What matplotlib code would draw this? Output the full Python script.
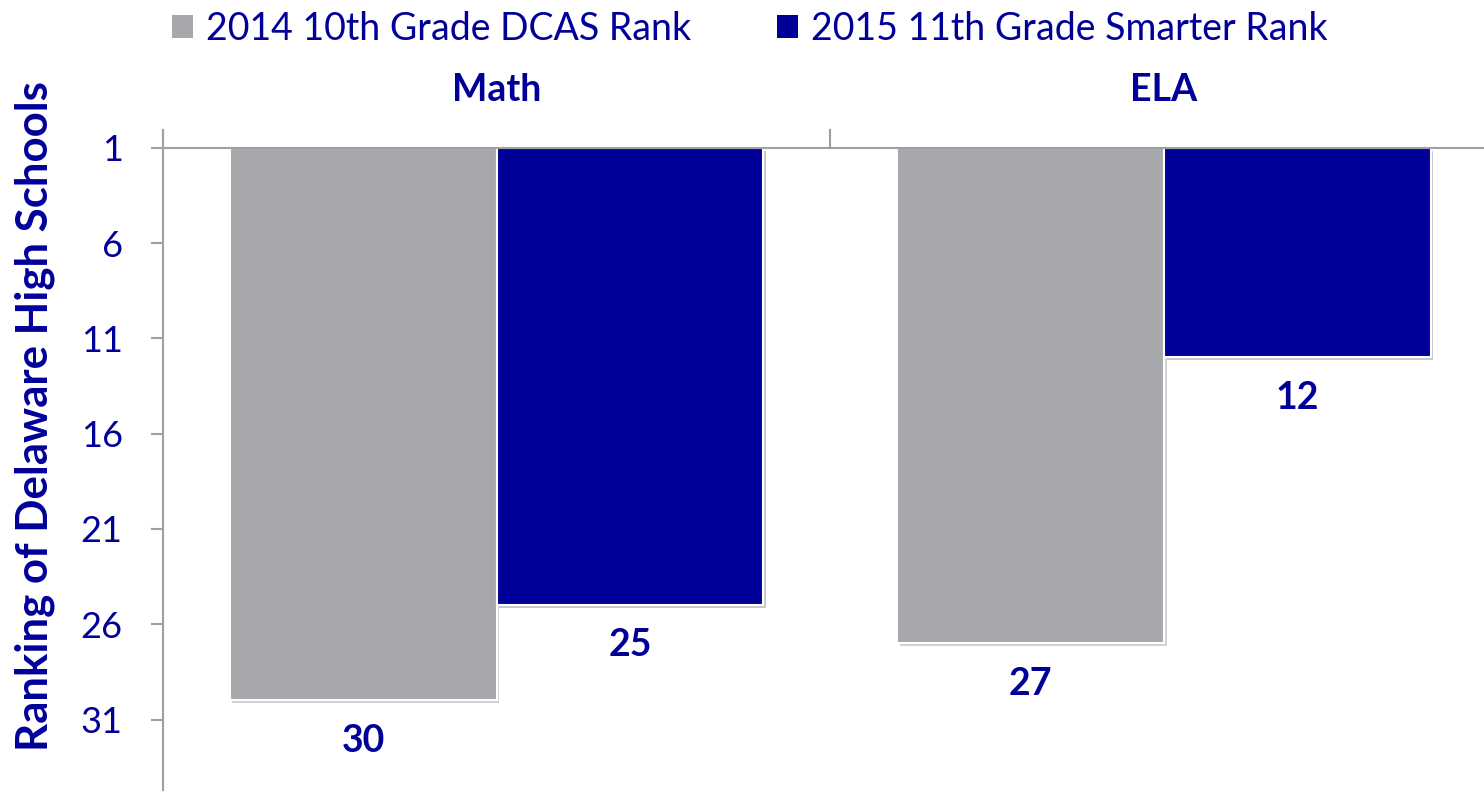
import matplotlib
matplotlib.use('Agg')
import matplotlib.pyplot as plt
import matplotlib.patheffects as pe
from matplotlib.patches import Patch
import numpy as np

plt.rcParams['font.family'] = ['Lato', 'DejaVu Sans']

subjects = ["Math", "ELA"]
series_names = ["2014 10th Grade DCAS Rank", "2015 11th Grade Smarter Rank"]
rank_2014 = [30, 27]
rank_2015 = [25, 12]
yticks = [1, 6, 11, 16, 21, 26, 31]

GRAY = "#A7A8AB"
BLUE = "#000099"
AXIS = "#A0A0A0"

fig = plt.figure(figsize=(14.84, 7.93), dpi=100)
ax = fig.add_axes([163 / 1484, 3 / 793, 1 - 163 / 1484, 660 / 793])

x = np.arange(len(subjects))
w = 0.4
base = 1
shadow = [pe.SimplePatchShadow(offset=(2, -2), alpha=0.22), pe.Normal()]
for vals, off, col in [(rank_2014, -w / 2, GRAY), (rank_2015, w / 2, BLUE)]:
    bars = ax.bar(x + off, np.array(vals) - base, bottom=base, width=w,
                  color=col, edgecolor="white", linewidth=1.5)
    for b, v in zip(bars, vals):
        b.set_path_effects(shadow)
        ax.annotate(str(v), (b.get_x() + b.get_width() / 2, v),
                    xytext=(0, -29), textcoords="offset points",
                    ha="center", va="center", fontsize=27,
                    fontweight="bold", color=BLUE)

ax.set_xlim(-0.5, 1.48)
ax.set_ylim(34.7, 0.06)

# top axis line at rank 1 and category separators
ax.axhline(base, color=AXIS, lw=1.5, zorder=1)
for sep in [-0.5, 0.5]:
    ax.plot([sep, sep], [0.06, base], color=AXIS, lw=1.5, clip_on=False)

for xi, s in zip(x, subjects):
    ax.text(xi, 1.06, s, transform=ax.get_xaxis_transform(), ha="center",
            va="center", fontsize=27, fontweight="bold", color=BLUE)

for s in ["top", "right", "bottom"]:
    ax.spines[s].set_visible(False)
ax.spines["left"].set_color(AXIS)
ax.spines["left"].set_linewidth(1.5)
ax.set_xticks([])
ax.set_yticks(yticks)
ax.tick_params(axis="y", length=9, width=1.5, color=AXIS, pad=20,
               labelsize=26, labelcolor=BLUE)

fig.text(48 / 1484, 1 - 416 / 793, "Ranking of Delaware High Schools",
         rotation=90, rotation_mode="anchor", ha="center", va="baseline",
         fontsize=31.5, fontweight="bold", color=BLUE)

handles = [Patch(facecolor=GRAY), Patch(facecolor=BLUE)]
fig.legend(handles, series_names, loc="center left",
           bbox_to_anchor=(172 / 1484, 1 - 29 / 793),
           ncol=2, frameon=False, fontsize=27, labelcolor=BLUE,
           borderpad=0, borderaxespad=0,
           handlelength=0.56, handleheight=0.56, handletextpad=0.34,
           columnspacing=2.3)

fig.savefig("out.png", dpi=100)
